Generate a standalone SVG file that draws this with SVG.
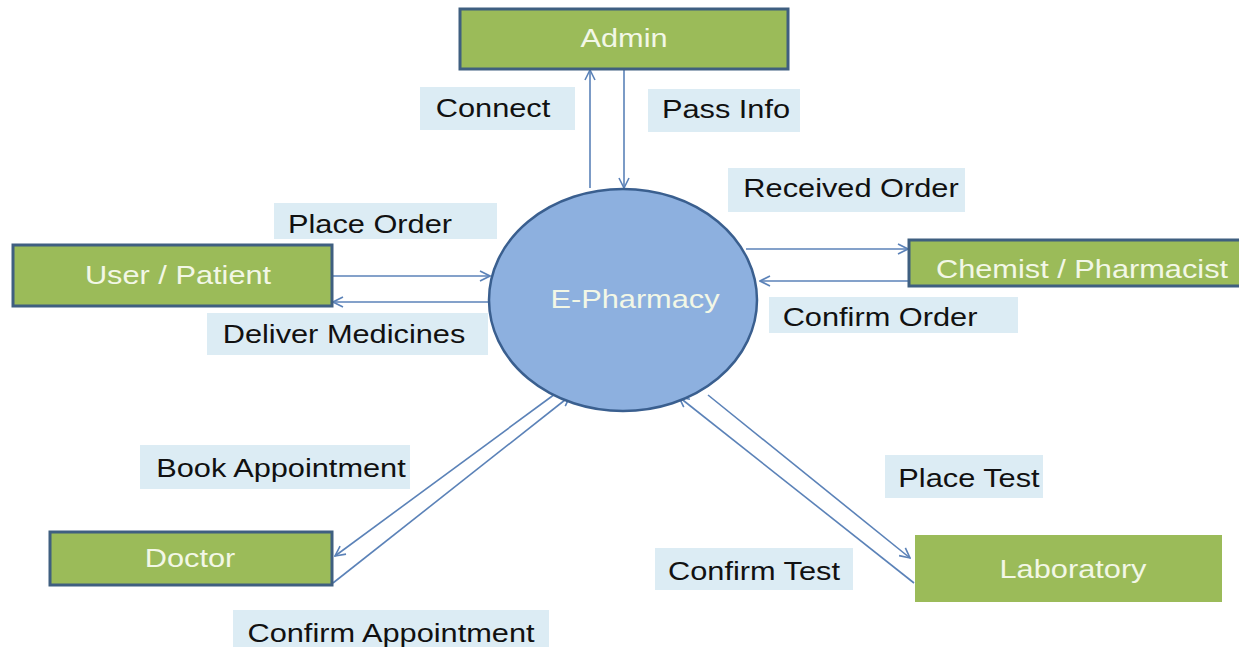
<svg xmlns="http://www.w3.org/2000/svg" width="1239" height="647" viewBox="0 0 1239 647">
<defs>
<style>
.node{fill:#9bbb59;stroke:#3f5f80;stroke-width:3}
.lab{fill:#dcecf4}
.t{font-family:"Liberation Sans",Arial,sans-serif;font-size:25px;text-anchor:middle}
.dark{fill:#111}
.light{fill:#f2f7e6}
.conn{stroke:#5b82b8;stroke-width:1.6;fill:none}
</style>
<marker id="arr" viewBox="0 0 12 12" refX="11" refY="6" markerWidth="12" markerHeight="12" markerUnits="userSpaceOnUse" orient="auto">
<path d="M1,1 L11,6 L1,11" fill="none" stroke="#5b82b8" stroke-width="1.6"/>
</marker>
</defs>
<rect width="1239" height="647" fill="#ffffff"/>

<g id="labels">
<rect class="lab" x="420" y="87" width="155" height="43"/>
<rect class="lab" x="648" y="89" width="152" height="43"/>
<rect class="lab" x="728" y="168" width="237" height="44"/>
<rect class="lab" x="274" y="203" width="223" height="36"/>
<rect class="lab" x="207" y="313" width="281" height="42"/>
<rect class="lab" x="769" y="297" width="249" height="36"/>
<rect class="lab" x="140" y="445" width="270" height="44"/>
<rect class="lab" x="233" y="610" width="316" height="37"/>
<rect class="lab" x="885" y="455" width="158" height="43"/>
<rect class="lab" x="655" y="548" width="198" height="42"/>
<text class="t dark" transform="translate(493,117) scale(1.23,1)">Connect</text>
<text class="t dark" transform="translate(726,118) scale(1.23,1)">Pass Info</text>
<text class="t dark" transform="translate(851,197) scale(1.23,1)">Received Order</text>
<text class="t dark" transform="translate(370,233) scale(1.23,1)">Place Order</text>
<text class="t dark" transform="translate(344,343) scale(1.23,1)">Deliver Medicines</text>
<text class="t dark" transform="translate(880,326) scale(1.23,1)">Confirm Order</text>
<text class="t dark" transform="translate(281,477) scale(1.23,1)">Book Appointment</text>
<text class="t dark" transform="translate(391,642) scale(1.23,1)">Confirm Appointment</text>
<text class="t dark" transform="translate(969,487) scale(1.23,1)">Place Test</text>
<text class="t dark" transform="translate(754,580) scale(1.23,1)">Confirm Test</text>
</g>

<g id="connectors">
<line class="conn" x1="590" y1="188" x2="590" y2="70" marker-end="url(#arr)"/>
<line class="conn" x1="624" y1="70" x2="624" y2="188" marker-end="url(#arr)"/>
<line class="conn" x1="333" y1="276" x2="490" y2="276" marker-end="url(#arr)"/>
<line class="conn" x1="490" y1="302" x2="333" y2="302" marker-end="url(#arr)"/>
<line class="conn" x1="746" y1="249" x2="908" y2="249" marker-end="url(#arr)"/>
<line class="conn" x1="908" y1="281" x2="760" y2="281" marker-end="url(#arr)"/>
<line class="conn" x1="555" y1="394" x2="335" y2="556" marker-end="url(#arr)"/>
<line class="conn" x1="333" y1="583" x2="570" y2="396" marker-end="url(#arr)"/>
<line class="conn" x1="708" y1="395" x2="910" y2="558" marker-end="url(#arr)"/>
<line class="conn" x1="914" y1="583" x2="679" y2="397" marker-end="url(#arr)"/>
</g>

<g id="admin">
<rect class="node" x="460" y="9" width="328" height="60"/>
<text class="t light" transform="translate(624,47) scale(1.23,1)">Admin</text>
</g>
<g id="user-patient">
<rect class="node" x="13" y="245" width="319" height="61"/>
<text class="t light" transform="translate(178,284) scale(1.23,1)">User / Patient</text>
</g>
<g id="chemist">
<rect class="node" x="909" y="240" width="332" height="46"/>
<text class="t light" transform="translate(1082,278) scale(1.23,1)">Chemist / Pharmacist</text>
</g>
<g id="doctor">
<rect class="node" x="50" y="532" width="282" height="53"/>
<text class="t light" transform="translate(190,567) scale(1.23,1)">Doctor</text>
</g>
<g id="laboratory">
<rect x="915" y="535" width="307" height="67" fill="#9bbb59"/>
<text class="t light" transform="translate(1073,578) scale(1.23,1)">Laboratory</text>
</g>
<g id="e-pharmacy">
<ellipse cx="623" cy="300" rx="134" ry="111" fill="#8db0df" stroke="#3a5f8f" stroke-width="2.5"/>
<text class="t light" transform="translate(635,308) scale(1.23,1)">E-Pharmacy</text>
</g>
</svg>
